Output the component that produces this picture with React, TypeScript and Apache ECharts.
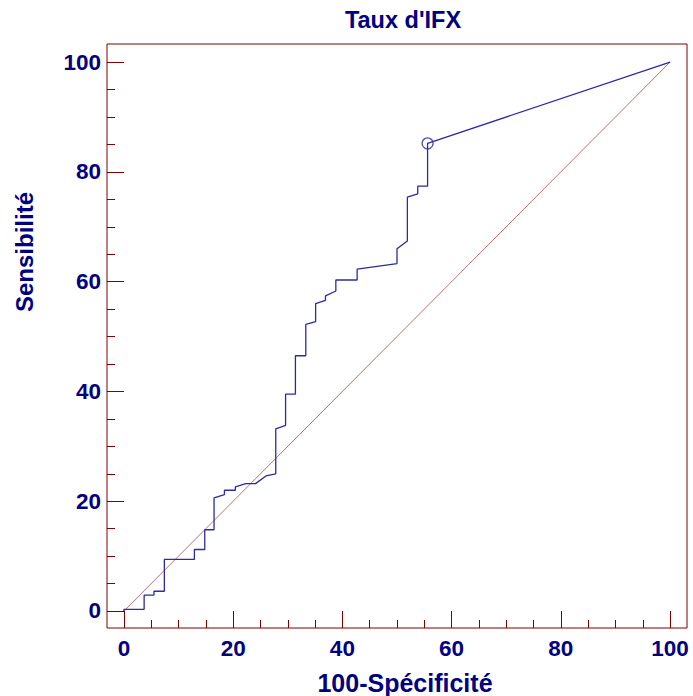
import React, { useEffect, useRef } from "react";
import * as echarts from "echarts";

const titleText = "Taux d'IFX";
const xTitle = "100-Spécificité";
const yTitle = "Sensibilité";

const majorTicks = [0, 20, 40, 60, 80, 100];
const minorTicks = [5, 10, 15, 25, 30, 35, 45, 50, 55, 65, 70, 75, 85, 90, 95];

// ROC curve points (100-Specificity, Sensitivity)
const fpr = [
  0, 0, 3.7, 3.7, 5.5, 5.5, 7.4, 7.4, 12.9, 12.9, 14.8, 14.8, 16.5, 16.5, 18.4, 18.4,
  20.4, 20.4, 22.3, 24.1, 26.0, 27.8, 27.8, 29.6, 29.6, 31.4, 31.4, 33.3, 33.3, 35.1,
  35.1, 36.9, 36.9, 38.8, 38.8, 42.7, 42.7, 50.0, 50.0, 51.9, 51.9, 53.8, 53.8, 55.6,
  55.6, 100,
];
const tpr = [
  0, 0.3, 0.3, 2.9, 2.9, 3.6, 3.6, 9.4, 9.4, 11.2, 11.2, 14.8, 14.8, 20.6, 21.2, 22.0,
  22.0, 22.6, 23.2, 23.2, 24.6, 25.0, 33.2, 33.8, 39.5, 39.5, 46.5, 46.5, 52.2, 52.7,
  56.0, 56.6, 57.4, 58.3, 60.3, 60.3, 62.3, 63.3, 66.0, 67.4, 75.4, 76.0, 77.4, 77.4,
  85.2, 100,
];
const cutoffX = [55.6];
const cutoffY = [85.2];
const diagX = [0, 100];
const diagY = [0, 100];

const NAVY = "#000080";
const FRAME = "#800000";
const CURVE = "#2b2ba6";
const DIAG = "#c07070";
const FONT = "'Liberation Sans', Arial, sans-serif";

export default function App() {
  const ref = useRef<HTMLDivElement>(null);
  useEffect(() => {
    if (!ref.current) return;
    const chart = echarts.init(ref.current, undefined, { renderer: "svg" });
    const labelStyle = {
      color: NAVY,
      fontSize: 22.5,
      fontWeight: "bold" as const,
      fontFamily: FONT,
    };
    const xBase = {
      type: "value" as const,
      min: -3.1,
      max: 103.1,
      position: "bottom" as const,
      axisLine: { show: false, onZero: false },
      splitLine: { show: false },
    };
    const yBase = {
      type: "value" as const,
      min: -3.1,
      max: 103.3,
      position: "left" as const,
      axisLine: { show: false, onZero: false },
      splitLine: { show: false },
    };
    chart.setOption({
      animation: false,
      grid: {
        left: 107,
        top: 44,
        right: 6,
        bottom: 68,
        show: true,
        borderColor: FRAME,
        borderWidth: 1,
        backgroundColor: "transparent",
      },
      xAxis: [
        {
          ...xBase,
          axisTick: {
            show: true,
            inside: true,
            length: 17,
            customValues: majorTicks,
            lineStyle: { color: FRAME, width: 1 },
          },
          axisLabel: { ...labelStyle, margin: 9, customValues: majorTicks },
        },
        {
          ...xBase,
          axisTick: {
            show: true,
            inside: true,
            length: 8,
            customValues: minorTicks,
            lineStyle: { color: FRAME, width: 1 },
          },
          axisLabel: { show: false },
        },
      ],
      yAxis: [
        {
          ...yBase,
          axisTick: {
            show: true,
            inside: true,
            length: 17,
            customValues: majorTicks,
            lineStyle: { color: FRAME, width: 1 },
          },
          axisLabel: { ...labelStyle, margin: 6, customValues: majorTicks },
        },
        {
          ...yBase,
          axisTick: {
            show: true,
            inside: true,
            length: 8,
            customValues: minorTicks,
            lineStyle: { color: FRAME, width: 1 },
          },
          axisLabel: { show: false },
        },
      ],
      graphic: [
        {
          type: "text",
          x: 403,
          y: 20,
          style: {
            text: titleText,
            fill: NAVY,
            fontSize: 23.5,
            fontWeight: "bold",
            fontFamily: FONT,
            align: "center",
            verticalAlign: "middle",
          },
        },
        {
          type: "text",
          x: 405,
          y: 683,
          style: {
            text: xTitle,
            fill: NAVY,
            fontSize: 25,
            fontWeight: "bold",
            fontFamily: FONT,
            align: "center",
            verticalAlign: "middle",
          },
        },
        {
          type: "text",
          x: 24,
          y: 252,
          rotation: Math.PI / 2,
          style: {
            text: yTitle,
            fill: NAVY,
            fontSize: 24,
            fontWeight: "bold",
            fontFamily: FONT,
            align: "center",
            verticalAlign: "middle",
          },
        },
      ],
      series: [
        {
          type: "line",
          xAxisIndex: 0,
          yAxisIndex: 0,
          data: diagX.map((x, i) => [x, diagY[i]]),
          symbol: "none",
          silent: true,
          lineStyle: { color: DIAG, width: 1 },
        },
        {
          type: "line",
          xAxisIndex: 0,
          yAxisIndex: 0,
          data: fpr.map((x, i) => [x, tpr[i]]),
          symbol: "none",
          silent: true,
          lineStyle: { color: CURVE, width: 1.3 },
        },
        {
          type: "scatter",
          xAxisIndex: 0,
          yAxisIndex: 0,
          data: cutoffX.map((x, i) => [x, cutoffY[i]]),
          symbol: "circle",
          symbolSize: 11,
          silent: true,
          itemStyle: { color: "#ffffff", borderColor: CURVE, borderWidth: 1.3 },
        },
      ],
    });
    return () => chart.dispose();
  }, []);
  return (
    <div
      ref={ref}
      style={{ position: "fixed", left: 0, top: 0, width: 693, height: 696, background: "#fff" }}
    />
  );
}
